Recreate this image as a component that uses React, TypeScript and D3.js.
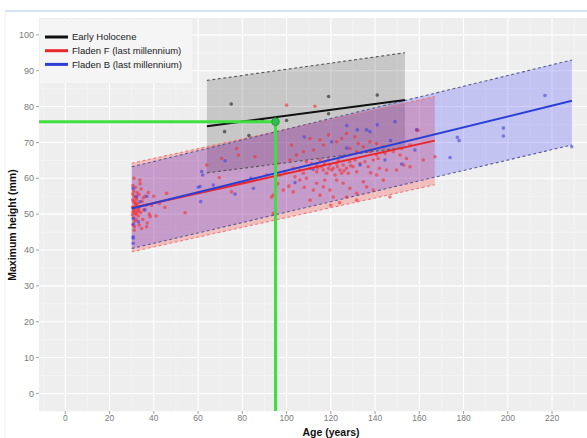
import React from "react";
import * as d3 from "d3";

// ---------- data ----------
const xTicks = [0, 20, 40, 60, 80, 100, 120, 140, 160, 180, 200, 220];
const yTicks = [0, 10, 20, 30, 40, 50, 60, 70, 80, 90, 100];
const seriesNames = ["Early Holocene", "Fladen F (last millennium)", "Fladen B (last millennium)"];

// model fits: [age, lower, fit, upper]
const earlyFit: [number, number, number, number][] = [
  [64, 61.5, 74.5, 87.3],
  [153.5, 68.6, 81.8, 95.0],
];
const fladenFFit: [number, number, number, number][] = [
  [30, 39.5, 51.7, 64.2],
  [167, 58.2, 70.5, 82.8],
];
const fladenBFit: [number, number, number, number][] = [
  [30, 40.4, 51.6, 63.2],
  [229, 69.3, 81.6, 93.0],
];

const earlyPoints: [number, number][] = [
  [75, 80.7], [72, 73], [83, 71.9], [100, 76.1], [119, 82.8], [141, 83.2], [119, 78], [89, 76.4],
];

const fladenBPoints: [number, number][] = [
  [216.8, 83.1], [198, 74], [198, 71.8], [177.2, 71.4], [178, 70.5], [173.9, 65.8], [228.9, 68.8],
  [158, 67.9], [127.2, 74.7], [136.2, 73.5], [141, 74.9], [149, 75.8], [132, 73.5], [137.7, 73],
  [120.4, 70.2], [144.5, 65.1], [103.8, 58.8], [133.2, 63.7], [158.8, 73.5], [127.2, 68.4],
  [60.9, 57.7], [60.1, 57.5], [61.6, 61.9], [62.1, 60.9], [61.2, 53.5], [66.9, 58.1], [76.7, 55.6],
  [83.9, 60], [72.2, 64.9], [85, 57.2], [30.7, 43.7], [30.7, 43.3], [30.7, 41.9], [30.6, 57.2],
  [32.3, 54.9], [33, 47.9], [36.8, 54.9], [33.8, 53.5], [36, 51.2], [30.7, 47.2], [30.7, 48.8],
  [112, 62.5], [125, 66], [147, 70.5], [108, 71.5], [152, 64],
];

const fladenFPoints: [number, number][] = [
  [100, 80.4], [112.8, 80.1], [118.9, 72.1], [115.1, 70.7], [116.6, 69.3], [112.1, 67.9], [102.3, 69.3],
  [107.6, 67.4], [110.6, 71.1], [122.6, 70.2], [124.9, 71.1], [127.1, 72.5], [130.9, 71.6], [132.4, 69.7],
  [128.6, 68.3], [134.7, 68.8], [137.7, 70.2], [140.7, 69.7], [143.7, 68.8], [131.7, 67.4], [137.7, 67.4],
  [140.7, 66.5], [144.5, 66.9], [148.2, 67.4], [152, 68.3], [155.8, 69.3], [159.5, 73.4], [161.8, 65.1],
  [95.5, 64.1], [101.5, 65.1], [104.5, 66.5],
  [109, 64.6], [111.3, 64.1], [113.6, 63.7], [115.8, 63.2], [117.3, 64.6], [119.6, 63.7], [121.1, 62.8],
  [122.6, 64.1], [124.1, 62.3], [125.6, 63.7], [127.1, 62.8], [128.6, 64.6], [130.1, 63.2], [131.7, 61.8],
  [133.2, 64.1], [135.4, 64.6], [136.9, 63.2], [139.2, 65.1], [141.4, 65.5], [113.6, 61.8], [118.1, 61.4],
  [121.9, 60.9], [124.9, 61.4], [110.6, 62.8], [115.1, 65.1], [127.9, 61.4], [106, 62.3], [103, 62.8],
  [107.6, 61.4], [97, 60.9], [99.3, 61.8], [118.9, 65.1], [123.4, 65.1], [130.9, 65.1], [120.4, 62.3],
  [116.6, 62.3], [114, 62.9], [119, 62.7], [123, 63.2], [126, 62.1], [129, 63.5], [117, 63.8],
  [106, 59.5], [109, 60], [113.6, 58.6], [116.6, 57.6], [119.6, 56.7], [122.6, 59.5], [125.6, 58.6],
  [128.6, 57.2], [131.7, 55.8], [115.1, 55.3], [110.6, 53.9], [103, 56.2], [98.5, 56.7], [136.2, 57.6],
  [139.2, 56.7], [143.7, 59.5], [146.7, 54.8], [131.7, 53.9], [127.1, 54.8], [121.1, 54.8], [94, 55.3],
  [94, 50.2], [149.7, 62.3], [155.8, 63.2], [103.8, 60.4], [117.3, 59.5], [112.1, 56.7], [134.7, 59],
  [140.7, 60.9], [145.2, 62.3], [154.2, 65.5], [158.8, 73.5], [153, 63.7], [167.1, 66], [151.3, 66.5],
  [120, 52.5], [124, 53.2], [108, 57.5], [138, 61.5], [142, 62.8], [96, 58.5], [101, 57.8],
  [33.7, 59.5], [45.8, 55.8], [54.1, 50.4], [45, 51.9], [63.9, 63.7], [69.6, 60.2], [75.1, 56.2],
  [78.2, 66.5], [85.7, 66], [70.6, 65.5], [93.2, 54.8], [91, 60.9], [77.4, 68.3], [36.7, 46.5], [38.3, 49.3],
  [30.5, 52], [30.6, 50.5], [30.8, 53.5], [31, 49], [31.2, 55], [30.7, 47], [31.5, 51], [31.8, 52.8],
  [32, 50], [32.2, 54], [30.9, 56.5], [31.1, 45.5], [31.4, 48], [32.5, 51.5], [32.8, 53], [33, 49.5],
  [33.3, 55.5], [33.6, 52], [34, 50.5], [34.3, 57], [34.7, 53.5], [35, 48.5], [35.5, 51.2], [36, 55],
  [36.5, 52.5], [37, 47.5], [37.5, 56], [38, 50], [30.5, 54], [30.6, 58], [31, 60], [31.3, 46.5],
  [31.6, 57.5], [32, 48.5], [32.4, 56], [32.9, 50.7], [33.4, 47], [33.8, 58.5], [34.5, 46], [35.2, 54.5],
  [39, 52.5], [40, 55], [41, 49.5], [42.5, 53], [31, 51.8], [31.5, 53.2], [32, 52.5], [30.8, 51], [31.7, 50.2],
  [30.4, 49.8], [30.5, 55.6], [31.9, 54.6], [33.2, 51.2],
];

const targetAge = [95];
const targetHeight = [75.8];

// ---------- layout ----------
const W = 587;
const H = 438;
const PL = 39, PR = 587, PT = 18, PB = 411;

export default function App() {
  const x = d3.scaleLinear().domain([-11.9, 235.8]).range([PL, PR]);
  const y = d3.scaleLinear().domain([-4.9, 104.7]).range([PB, PT]);

  const area = d3
    .area<[number, number, number, number]>()
    .x((d) => x(d[0]))
    .y0((d) => y(d[1]))
    .y1((d) => y(d[3]));
  const lineL = d3.line<[number, number, number, number]>().x((d) => x(d[0])).y((d) => y(d[1]));
  const lineU = d3.line<[number, number, number, number]>().x((d) => x(d[0])).y((d) => y(d[3]));
  const lineF = d3.line<[number, number, number, number]>().x((d) => x(d[0])).y((d) => y(d[2]));

  const minorX = d3.range(-10, 236, 10).filter((v) => v % 20 !== 0);
  const minorY = d3.range(-5, 105, 10);

  const font = "'Liberation Sans', Arial, sans-serif";

  const bands = [
    { fit: earlyFit, fill: "rgba(0,0,0,0.16)", edge: "#555555", line: "#111111" },
    { fit: fladenFFit, fill: "rgba(255,0,0,0.2)", edge: "#f07a7a", line: "#e8262b" },
    { fit: fladenBFit, fill: "rgba(0,0,255,0.18)", edge: "#5a5a9a", line: "#2b3fd6" },
  ];

  return (
    <svg width={W} height={H} style={{ position: "absolute", left: 0, top: 0, background: "#fff" }}>
      <line x1={5} x2={W} y1={11} y2={11} stroke="#d4e2f4" strokeWidth={2} />
      <line x1={5} x2={5} y1={11} y2={H} stroke="#eef2f7" strokeWidth={1} />
      <rect x={PL} y={PT} width={PR - PL} height={PB - PT} fill="#eeeeee" />
      <clipPath id="panel">
        <rect x={PL} y={PT} width={PR - PL} height={PB - PT} />
      </clipPath>
      <g>
        {minorX.map((v) => (
          <line key={"mx" + v} x1={x(v)} x2={x(v)} y1={PT} y2={PB} stroke="#f7f7f7" strokeWidth={0.6} />
        ))}
        {minorY.map((v) => (
          <line key={"my" + v} x1={PL} x2={PR} y1={y(v)} y2={y(v)} stroke="#f7f7f7" strokeWidth={0.6} />
        ))}
        {xTicks.map((v) => (
          <line key={"gx" + v} x1={x(v)} x2={x(v)} y1={PT} y2={PB} stroke="#ffffff" strokeWidth={1.1} />
        ))}
        {yTicks.map((v) => (
          <line key={"gy" + v} x1={PL} x2={PR} y1={y(v)} y2={y(v)} stroke="#ffffff" strokeWidth={1.1} />
        ))}
      </g>

      {/* legend background */}
      <rect x={40} y={19} width={152} height={64} fill="#f5f5f5" />

      <g clipPath="url(#panel)">
        {bands.map((b, i) => (
          <path key={"band" + i} d={area(b.fit) || ""} fill={b.fill} />
        ))}
        {bands.map((b, i) => (
          <g key={"edge" + i}>
            <path d={lineL(b.fit) || ""} fill="none" stroke={b.edge} strokeWidth={1.1} strokeDasharray="3,2.5" />
            <path d={lineU(b.fit) || ""} fill="none" stroke={b.edge} strokeWidth={1.1} strokeDasharray="3,2.5" />
          </g>
        ))}
        {fladenFPoints.map((p, i) => (
          <circle key={"f" + i} cx={x(p[0])} cy={y(p[1])} r={1.8} fill="#f03030" fillOpacity={0.6} />
        ))}
        {fladenBPoints.map((p, i) => (
          <circle key={"b" + i} cx={x(p[0])} cy={y(p[1])} r={1.8} fill="#4040e0" fillOpacity={0.6} />
        ))}
        {earlyPoints.map((p, i) => (
          <circle key={"e" + i} cx={x(p[0])} cy={y(p[1])} r={1.8} fill="#333" fillOpacity={0.7} />
        ))}
        {bands.map((b, i) => (
          <path key={"fit" + i} d={lineF(b.fit) || ""} fill="none" stroke={b.line} strokeWidth={2} />
        ))}
        <line x1={PL} x2={x(targetAge[0])} y1={y(targetHeight[0])} y2={y(targetHeight[0])} stroke="#3ee03e" strokeWidth={3} />
        <line x1={x(targetAge[0])} x2={x(targetAge[0])} y1={y(targetHeight[0])} y2={PB} stroke="#3ee03e" strokeWidth={3} />
        <circle cx={x(targetAge[0])} cy={y(targetHeight[0])} r={3.8} fill="#2fbf50" stroke="#1f9a3a" strokeWidth={1} />
      </g>

      {/* legend */}
      {seriesNames.map((n, i) => (
        <g key={"lg" + i}>
          <line x1={45} x2={68} y1={37 + i * 13.7} y2={37 + i * 13.7} stroke={bands[i].line} strokeWidth={3} />
          <text x={72} y={37 + i * 13.7} dy="0.35em" fontSize={9.5} fontFamily={font} fill="#222">
            {n}
          </text>
        </g>
      ))}

      {/* axes */}
      {xTicks.map((v) => (
        <g key={"xt" + v}>
          <line x1={x(v)} x2={x(v)} y1={PB} y2={PB + 3} stroke="#888" strokeWidth={0.8} />
          <text x={x(v)} y={PB + 9.5} textAnchor="middle" fontSize={8.5} fontFamily={font} fill="#7a7a7a">
            {v}
          </text>
        </g>
      ))}
      {yTicks.map((v) => (
        <g key={"yt" + v}>
          <line x1={PL - 3} x2={PL} y1={y(v)} y2={y(v)} stroke="#888" strokeWidth={0.8} />
          <text x={PL - 5} y={y(v)} dy="0.35em" textAnchor="end" fontSize={9} fontFamily={font} fill="#7a7a7a">
            {v}
          </text>
        </g>
      ))}
      <text x={331} y={436} textAnchor="middle" fontSize={10.5} fontWeight="bold" fontFamily={font} fill="#111">
        Age (years)
      </text>
      <text
        transform={`translate(16,${225}) rotate(-90)`}
        textAnchor="middle"
        fontSize={10.5}
        fontWeight="bold"
        fontFamily={font}
        fill="#111"
      >
        Maximum height (mm)
      </text>
    </svg>
  );
}
